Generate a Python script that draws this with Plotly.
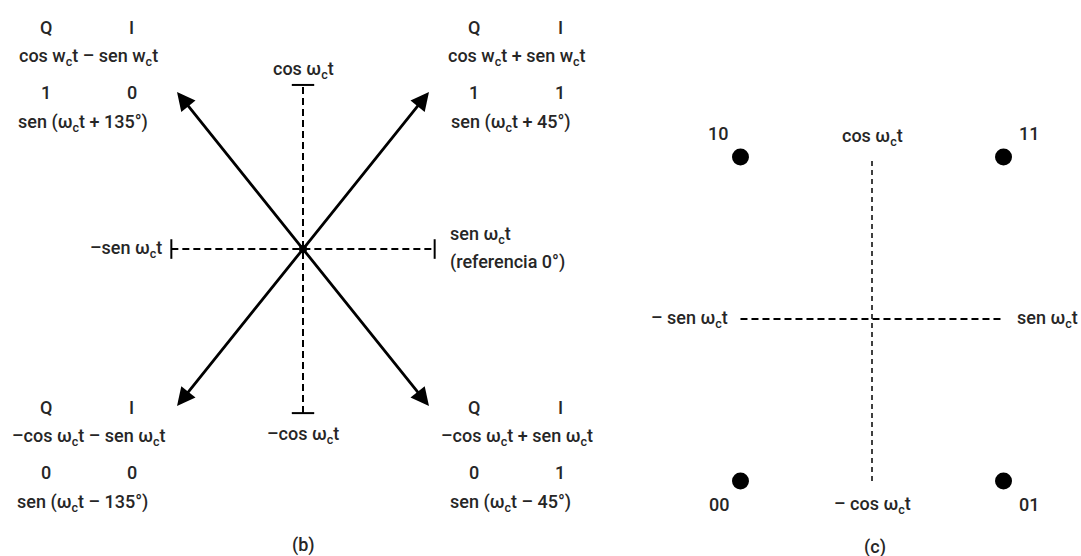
import plotly.graph_objects as go

# ---------------- data ----------------
# Panel (b): QPSK phasors (I, Q bits mapped to +/-1)
phasor_I = [-1, 1, -1, 1]
phasor_Q = [1, 1, -1, -1]
bit_Q = ["1", "1", "0", "0"]
bit_I = ["0", "1", "0", "1"]
expr = ["cos w<sub>c</sub>t – sen w<sub>c</sub>t",
        "cos w<sub>c</sub>t + sen w<sub>c</sub>t",
        "–cos ω<sub>c</sub>t – sen ω<sub>c</sub>t",
        "–cos ω<sub>c</sub>t + sen ω<sub>c</sub>t"]
phase = ["sen (ω<sub>c</sub>t + 135°)",
         "sen (ω<sub>c</sub>t + 45°)",
         "sen (ω<sub>c</sub>t – 135°)",
         "sen (ω<sub>c</sub>t – 45°)"]
axis_ext_b = 1.045   # reference axes half-length (b)

# Panel (c): constellation points
const_I = [-1, 1, -1, 1]
const_Q = [1, 1, -1, -1]
const_lbl = ["10", "11", "00", "01"]
axis_ext_c = 1.0

FONT = "Roboto, Liberation Sans, Arial, sans-serif"
TXT = "#262626"
FS = 18

fig = go.Figure()

# ---- panel (b) reference axes ----
fig.add_trace(go.Scatter(x=[-axis_ext_b, axis_ext_b], y=[0, 0], mode="lines",
                         line=dict(color="black", width=2, dash="7px,4px"),
                         xaxis="x", yaxis="y", hoverinfo="skip"))
fig.add_trace(go.Scatter(x=[0, 0], y=[-axis_ext_b, axis_ext_b], mode="lines",
                         line=dict(color="black", width=2, dash="7px,4px"),
                         xaxis="x", yaxis="y", hoverinfo="skip"))
fig.add_trace(go.Scatter(x=[-axis_ext_b, axis_ext_b], y=[0, 0], mode="markers",
                         marker=dict(symbol="line-ns", size=14,
                                     line=dict(color="black", width=2)),
                         xaxis="x", yaxis="y", hoverinfo="skip"))
fig.add_trace(go.Scatter(x=[0, 0], y=[-axis_ext_b, axis_ext_b], mode="markers",
                         marker=dict(symbol="line-ew", size=16,
                                     line=dict(color="black", width=2)),
                         xaxis="x", yaxis="y", hoverinfo="skip"))
fig.add_trace(go.Scatter(x=[0], y=[0], mode="markers",
                         marker=dict(color="black", size=8),
                         xaxis="x", yaxis="y", hoverinfo="skip"))

# ---- panel (c) axes and points ----
fig.add_trace(go.Scatter(x=[-axis_ext_c, axis_ext_c], y=[0, 0], mode="lines",
                         line=dict(color="black", width=2, dash="7px,4px"),
                         xaxis="x2", yaxis="y2", hoverinfo="skip"))
fig.add_trace(go.Scatter(x=[0, 0], y=[-axis_ext_c, axis_ext_c], mode="lines",
                         line=dict(color="black", width=1.5, dash="5px,4px"),
                         xaxis="x2", yaxis="y2", hoverinfo="skip"))
fig.add_trace(go.Scatter(x=const_I, y=const_Q, mode="markers",
                         marker=dict(color="black", size=17),
                         xaxis="x2", yaxis="y2", hoverinfo="skip"))

ann = []

def txt(x, y, s, xref="x", yref="y", xanchor="center", size=FS):
    ann.append(dict(x=x, y=y, xref=xref, yref=yref, text=s, showarrow=False,
                    xanchor=xanchor, yanchor="middle",
                    font=dict(family=FONT, size=size, color=TXT, weight=500)))

# phasor arrows
for i, q in zip(phasor_I, phasor_Q):
    ann.append(dict(x=i, y=q, ax=0, ay=0, xref="x", yref="y", axref="x", ayref="y",
                    text="", showarrow=True, arrowhead=2, arrowsize=1.3,
                    arrowwidth=2.8, arrowcolor="black", standoff=0, startstandoff=0))

# phasor text blocks
for i, q, bq, bi, e, p in zip(phasor_I, phasor_Q, bit_Q, bit_I, expr, phase):
    cx = 1.70 * i
    top = 1.41 if q > 0 else -1.01
    txt(cx - 0.34, top, "Q")
    txt(cx + 0.34, top, "I")
    txt(cx, top - 0.19, e)
    txt(cx - 0.34, top - 0.41, bq)
    txt(cx + 0.34, top - 0.41, bi)
    txt(cx - 0.05, top - 0.61, p)

# axis labels (b)
txt(0, 1.14, "cos ω<sub>c</sub>t")
txt(0, -1.185, "–cos ω<sub>c</sub>t")
txt(-1.10, 0.0, "–sen ω<sub>c</sub>t", xanchor="right")
txt(1.15, 0.09, "sen ω<sub>c</sub>t", xanchor="left")
txt(1.15, -0.085, "(referencia 0°)", xanchor="left")
txt(0, -1.885, "(b)")

# axis labels (c)
txt(0, 1.123, "cos ω<sub>c</sub>t", xref="x2", yref="y2")
txt(0, -1.148, "– cos ω<sub>c</sub>t", xref="x2", yref="y2")
txt(-1.08, 0.0, "– sen ω<sub>c</sub>t", xref="x2", yref="y2", xanchor="right")
txt(1.087, 0.0, "sen ω<sub>c</sub>t", xref="x2", yref="y2", xanchor="left")
lbl_dx = [-0.17, 0.19, -0.16, 0.19]
for i, q, l, dx in zip(const_I, const_Q, const_lbl, lbl_dx):
    txt(i + dx, q * 1.148, l, xref="x2", yref="y2")
txt(0.02, -1.407, "(c)", xref="x2", yref="y2")

fig.update_layout(
    width=1081, height=556,
    margin=dict(l=0, r=0, t=0, b=0),
    paper_bgcolor="white", plot_bgcolor="white",
    showlegend=False,
    annotations=ann,
    xaxis=dict(domain=[0, 606 / 1081], range=[-2.405, 2.405], visible=False, fixedrange=True),
    yaxis=dict(domain=[0, 1], range=[-1.955, 1.586], visible=False, fixedrange=True),
    xaxis2=dict(domain=[620 / 1081, 1], range=[-1.916, 1.589], visible=False, fixedrange=True),
    yaxis2=dict(domain=[0, 1], range=[-1.463, 1.969], visible=False, fixedrange=True, anchor="x2"),
)

fig.write_html("out.html",
               config={"displayModeBar": False, "staticPlot": True},
               post_script="document.body.style.margin='0';document.body.style.overflow='hidden';")
